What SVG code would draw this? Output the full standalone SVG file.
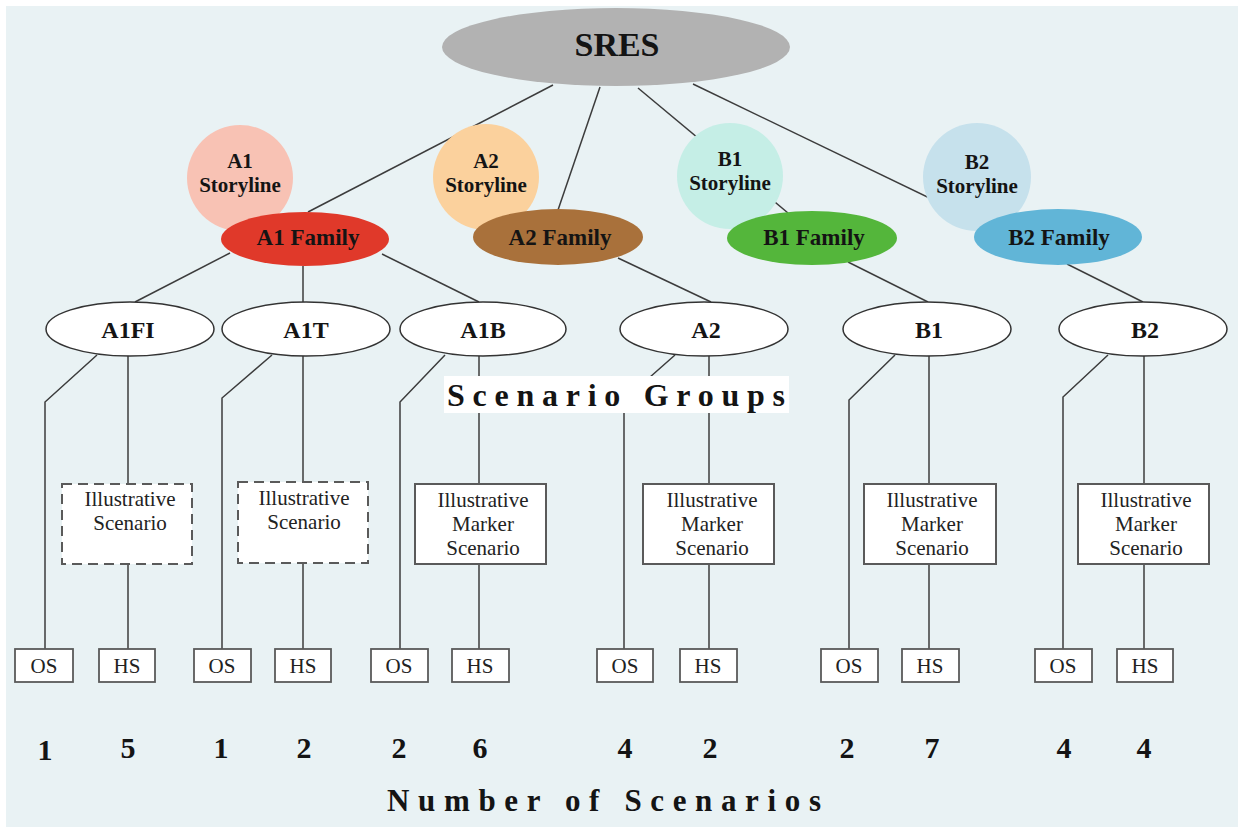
<svg xmlns="http://www.w3.org/2000/svg" width="1242" height="831" viewBox="0 0 1242 831">
<style>
text{font-family:"Liberation Serif","Times New Roman","DejaVu Serif",serif;fill:#141414}
.b{font-weight:bold}
.c{text-anchor:middle}
.ln{stroke:#3c3c3c;stroke-width:1.5;fill:none}
.grp{fill:#ffffff;stroke:#333;stroke-width:1.5}
.dash{fill:#ffffff;stroke:#5a5a5a;stroke-width:2;stroke-dasharray:10,6}
.mk{fill:#ffffff;stroke:#5a5a5a;stroke-width:2}
.sb{fill:#ffffff;stroke:#5a5a5a;stroke-width:1.8}
.gt{font-size:24px;font-weight:bold;text-anchor:middle}
.ft{font-size:23px;font-weight:bold;text-anchor:middle}
.st{font-size:21px;font-weight:bold;text-anchor:middle}
.it{font-size:21px;text-anchor:middle;fill:#222}
.bx{font-size:21px;text-anchor:middle;fill:#222}
.num{font-size:30px;font-weight:bold;text-anchor:middle}
</style>
<rect x="0" y="0" width="1242" height="831" fill="#ffffff"/>
<rect x="6" y="6" width="1232" height="821" fill="#e9f2f4"/>

<g id="connectors">
  <line class="ln" x1="553" y1="85" x2="308" y2="212"/>
  <line class="ln" x1="600" y1="87" x2="558" y2="210"/>
  <line class="ln" x1="638" y1="88" x2="788" y2="213"/>
  <line class="ln" x1="693" y1="84" x2="1000" y2="232"/>
  <line class="ln" x1="230" y1="253" x2="135" y2="302"/>
  <line class="ln" x1="303" y1="266" x2="303" y2="302"/>
  <line class="ln" x1="382" y1="254" x2="479" y2="302"/>
  <line class="ln" x1="618" y1="258" x2="711" y2="302"/>
  <line class="ln" x1="848" y1="262" x2="928" y2="302"/>
  <line class="ln" x1="1067" y1="264" x2="1143" y2="302"/>
  <polyline class="ln" points="97,355 45,402 45,650"/>
  <line class="ln" x1="128" y1="356" x2="128" y2="650"/>
  <polyline class="ln" points="272,355 222,398 222,650"/>
  <line class="ln" x1="303" y1="356" x2="303" y2="650"/>
  <polyline class="ln" points="445,355 400,402 400,650"/>
  <line class="ln" x1="479" y1="356" x2="479" y2="650"/>
  <polyline class="ln" points="675,355 624,400 624,650"/>
  <line class="ln" x1="709" y1="356" x2="709" y2="650"/>
  <polyline class="ln" points="895,355 849,400 849,650"/>
  <line class="ln" x1="929" y1="356" x2="929" y2="650"/>
  <polyline class="ln" points="1108,355 1063,397 1063,650"/>
  <line class="ln" x1="1144" y1="356" x2="1144" y2="650"/>
</g>

<g id="sres">
  <ellipse cx="616" cy="47" rx="174" ry="39" fill="#b2b2b2"/>
  <text class="b c" x="617" y="56" font-size="34">SRES</text>
</g>

<g id="a1-storyline">
  <circle cx="240" cy="178" r="53" fill="#f8c2b4"/>
  <text class="st" x="240" y="168">A1</text>
  <text class="st" x="240" y="192">Storyline</text>
</g>
<g id="a2-storyline">
  <circle cx="486" cy="177" r="53" fill="#fbd19d"/>
  <text class="st" x="486" y="168">A2</text>
  <text class="st" x="486" y="192">Storyline</text>
</g>
<g id="b1-storyline">
  <circle cx="730" cy="176" r="53" fill="#c5eee6"/>
  <text class="st" x="730" y="166">B1</text>
  <text class="st" x="730" y="190">Storyline</text>
</g>
<g id="b2-storyline">
  <circle cx="977" cy="177" r="54" fill="#c6e1ec"/>
  <text class="st" x="977" y="169">B2</text>
  <text class="st" x="977" y="193">Storyline</text>
</g>

<g id="a1-family">
  <ellipse cx="305" cy="239" rx="84" ry="27" fill="#e0392a"/>
  <text class="ft" x="308" y="245">A1 Family</text>
</g>
<g id="a2-family">
  <ellipse cx="558" cy="237" rx="85" ry="28" fill="#a9713b"/>
  <text class="ft" x="560" y="245">A2 Family</text>
</g>
<g id="b1-family">
  <ellipse cx="812" cy="238" rx="85" ry="27" fill="#54b63b"/>
  <text class="ft" x="814" y="245">B1 Family</text>
</g>
<g id="b2-family">
  <ellipse cx="1058" cy="237" rx="84" ry="28" fill="#61b5d7"/>
  <text class="ft" x="1059" y="245">B2 Family</text>
</g>

<g id="g-a1fi"><ellipse class="grp" cx="130" cy="329" rx="84" ry="27"/><text class="gt" x="128" y="338">A1FI</text></g>
<g id="g-a1t"><ellipse class="grp" cx="306" cy="329" rx="84" ry="27"/><text class="gt" x="306" y="338">A1T</text></g>
<g id="g-a1b"><ellipse class="grp" cx="483" cy="329" rx="83" ry="27"/><text class="gt" x="483" y="338">A1B</text></g>
<g id="g-a2"><ellipse class="grp" cx="704" cy="329" rx="84" ry="27"/><text class="gt" x="706" y="338">A2</text></g>
<g id="g-b1"><ellipse class="grp" cx="927" cy="329" rx="84" ry="27"/><text class="gt" x="929" y="338">B1</text></g>
<g id="g-b2"><ellipse class="grp" cx="1143" cy="329" rx="84" ry="27"/><text class="gt" x="1145" y="338">B2</text></g>

<g id="label-scenario-groups">
  <rect x="444" y="376" width="345" height="37" fill="#ffffff"/>
  <text class="b" x="447" y="406" font-size="32" textLength="338" lengthAdjust="spacing">Scenario Groups</text>
</g>

<g id="ill-a1fi"><rect class="dash" x="62" y="484" width="130" height="80"/><text class="it" x="130" y="506">Illustrative</text><text class="it" x="130" y="530">Scenario</text></g>
<g id="ill-a1t"><rect class="dash" x="238" y="482" width="130" height="81"/><text class="it" x="304" y="505">Illustrative</text><text class="it" x="304" y="529">Scenario</text></g>
<g id="ism-a1b"><rect class="mk" x="415" y="484" width="131" height="80"/><text class="it" x="483" y="507">Illustrative</text><text class="it" x="483" y="531">Marker</text><text class="it" x="483" y="555">Scenario</text></g>
<g id="ism-a2"><rect class="mk" x="643" y="484" width="131" height="80"/><text class="it" x="712" y="507">Illustrative</text><text class="it" x="712" y="531">Marker</text><text class="it" x="712" y="555">Scenario</text></g>
<g id="ism-b1"><rect class="mk" x="864" y="484" width="132" height="80"/><text class="it" x="932" y="507">Illustrative</text><text class="it" x="932" y="531">Marker</text><text class="it" x="932" y="555">Scenario</text></g>
<g id="ism-b2"><rect class="mk" x="1078" y="484" width="131" height="80"/><text class="it" x="1146" y="507">Illustrative</text><text class="it" x="1146" y="531">Marker</text><text class="it" x="1146" y="555">Scenario</text></g>

<g id="os-a1fi"><rect class="sb" x="15" y="649" width="58" height="33"/><text class="bx" x="44" y="673">OS</text></g>
<g id="hs-a1fi"><rect class="sb" x="99" y="649" width="56" height="33"/><text class="bx" x="127" y="673">HS</text></g>
<g id="os-a1t"><rect class="sb" x="194" y="649" width="57" height="33"/><text class="bx" x="222" y="673">OS</text></g>
<g id="hs-a1t"><rect class="sb" x="275" y="649" width="56" height="33"/><text class="bx" x="303" y="673">HS</text></g>
<g id="os-a1b"><rect class="sb" x="371" y="649" width="57" height="33"/><text class="bx" x="399" y="673">OS</text></g>
<g id="hs-a1b"><rect class="sb" x="452" y="649" width="57" height="33"/><text class="bx" x="480" y="673">HS</text></g>
<g id="os-a2"><rect class="sb" x="597" y="649" width="56" height="33"/><text class="bx" x="625" y="673">OS</text></g>
<g id="hs-a2"><rect class="sb" x="680" y="649" width="57" height="33"/><text class="bx" x="708" y="673">HS</text></g>
<g id="os-b1"><rect class="sb" x="821" y="649" width="57" height="33"/><text class="bx" x="849" y="673">OS</text></g>
<g id="hs-b1"><rect class="sb" x="902" y="649" width="57" height="33"/><text class="bx" x="930" y="673">HS</text></g>
<g id="os-b2"><rect class="sb" x="1035" y="649" width="57" height="33"/><text class="bx" x="1063" y="673">OS</text></g>
<g id="hs-b2"><rect class="sb" x="1117" y="649" width="56" height="33"/><text class="bx" x="1145" y="673">HS</text></g>

<g id="numbers">
  <text class="num" x="45" y="760">1</text>
  <text class="num" x="128" y="758">5</text>
  <text class="num" x="221" y="758">1</text>
  <text class="num" x="304" y="758">2</text>
  <text class="num" x="399" y="758">2</text>
  <text class="num" x="480" y="758">6</text>
  <text class="num" x="625" y="758">4</text>
  <text class="num" x="710" y="758">2</text>
  <text class="num" x="847" y="758">2</text>
  <text class="num" x="932" y="758">7</text>
  <text class="num" x="1064" y="758">4</text>
  <text class="num" x="1144" y="758">4</text>
</g>

<g id="label-number-of-scenarios">
  <text class="b" x="387" y="811" font-size="31" textLength="434" lengthAdjust="spacing">Number of Scenarios</text>
</g>
</svg>
